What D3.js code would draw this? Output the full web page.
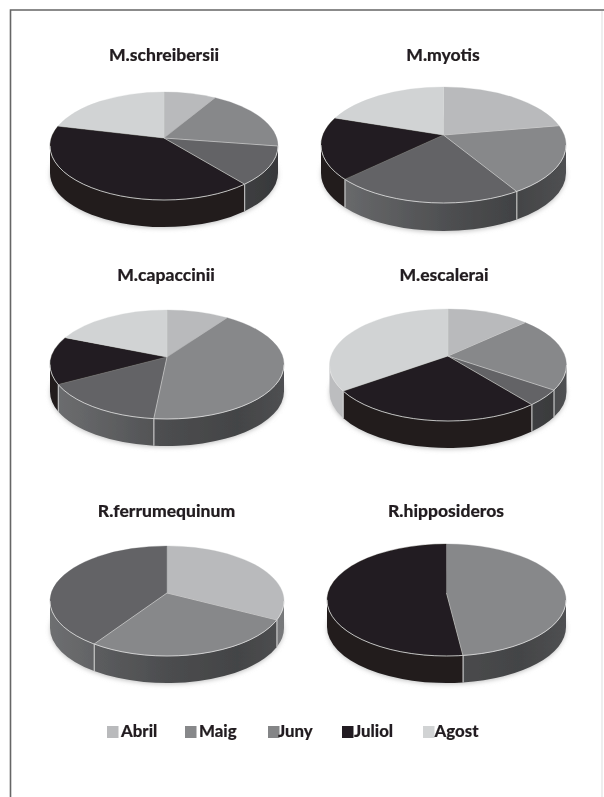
<!DOCTYPE html>
<html><head><meta charset="utf-8">
<script src="https://cdn.jsdelivr.net/npm/d3@7"></script>
<style>html,body{margin:0;padding:0;background:#fff}svg{display:block}text{font-family:Lato,"Noto Sans",sans-serif;font-weight:900;fill:#231f20;stroke:#231f20;stroke-width:0.15}</style>
</head><body><svg id="c" width="604" height="797"></svg>
<script>
// ---- data (percent of captures per month)
const months = ["Abril","Maig","Juny","Juliol","Agost"];
const species = ["M.schreibersii","M.myotis","M.capaccinii","M.escalerai","R.ferrumequinum","R.hipposideros"];
const schreibersii = [7.4,17.6,12.5,43.5,19.0];
const myotis = [19.6,20.2,25.1,17.8,17.3];
const capaccinii = [8.6,43.2,17.2,14.2,16.8];
const escalerai = [11.3,21.1,5.1,29.8,32.7];
const ferrumequinum = [30.6,30.1,39.3,0,0];
const hipposideros = [0,47.8,0,52.2,0];
const seriesList = [schreibersii,myotis,capaccinii,escalerai,ferrumequinum,hipposideros];

// ---- styles
const topColors = ["#b9babc","#87888a","#636466","#231f20","#d1d3d4"];
const legendColors = ["#b9babc","#87888a","#848587","#231f20","#d1d3d4"];
const sideStops = [
  [["0","#8a8b8d"],["1","#77787a"]],
  [["0","#666769"],["0.5","#4c4d4f"],["0.8","#434446"],["1","#4f5052"]],
  [["0","#6e6f71"],["0.5","#4f5052"],["1","#37383a"]],
  [["0","#211d1e"],["1","#211d1e"]],
  [["0","#bcbdbf"],["1","#bcbdbf"]]
];
// ---- layout: ellipse centre, radii, apex y, wall depth, title x/baseline
const layout = [
  {cx:164,cy:146,rx:114,ry:54,ay:138,d:27,tx:164,ty:61},
  {cx:443.5,cy:145,rx:122.5,ry:58,ay:135,d:28,tx:443,ty:61},
  {cx:167,cy:364.5,rx:117,ry:54.5,ay:357,d:27,tx:166,ty:281},
  {cx:448,cy:365,rx:118.5,ry:56,ay:356,d:27,tx:444,ty:281},
  {cx:167,cy:601,rx:117,ry:55,ay:593,d:27,tx:166.5,ty:517},
  {cx:446.5,cy:600,rx:119.5,ry:56,ay:593,d:27,tx:446,ty:517}
];
const legendSquareX = [107,185,268,342,423];
const legendTextX = [121,199,278,354,434.5];

const svg = d3.select("#c");
const defs = svg.append("defs");
defs.append("filter").attr("id","soft").attr("x","-5%").attr("y","-5%").attr("width","110%").attr("height","110%")
  .append("feGaussianBlur").attr("stdDeviation",0.5);
const shf = defs.append("filter").attr("id","shadow").attr("x","-10%").attr("y","-20%").attr("width","120%").attr("height","140%");
shf.append("feGaussianBlur").attr("stdDeviation",2);

const root = svg.append("g").attr("filter","url(#soft)");
// page frame
root.append("path").attr("d","M604,10H10.5V797").attr("fill","none").attr("stroke","#666").attr("stroke-width",1.6);
root.append("path").attr("d","M602,11V797").attr("fill","none").attr("stroke","#ddd").attr("stroke-width",1);

const pie = d3.pie().sort(null).value(d=>d);

seriesList.forEach((vals,pi)=>{
  const L = layout[pi];
  const g = root.append("g");
  const P = t=>[L.cx+L.rx*Math.sin(t), L.cy-L.ry*Math.cos(t)];
  const arcs = pie(vals);

  months.forEach((m,i)=>{
    const lg = defs.append("linearGradient").attr("id",`s${pi}_${i}`).attr("gradientUnits","userSpaceOnUse")
      .attr("x1",L.cx-L.rx).attr("x2",L.cx+L.rx).attr("y1",0).attr("y2",0);
    sideStops[i].forEach(s=>lg.append("stop").attr("offset",s[0]).attr("stop-color",s[1]));
  });

  // soft shadow below the disc
  g.append("ellipse").attr("cx",L.cx).attr("cy",L.cy+L.d+1.5).attr("rx",L.rx).attr("ry",L.ry)
    .attr("fill","#c8c8c8").attr("filter","url(#shadow)");

  // walls (front half only)
  arcs.forEach(a=>{
    if(a.value===0) return;
    const s=Math.max(a.startAngle,Math.PI/2), e=Math.min(a.endAngle,3*Math.PI/2);
    if(e<=s) return;
    const p0=P(s),p1=P(e);
    const d=`M${p0}A${L.rx},${L.ry} 0 ${e-s>Math.PI?1:0} 1 ${p1}L${p1[0]},${p1[1]+L.d}A${L.rx},${L.ry} 0 ${e-s>Math.PI?1:0} 0 ${p0[0]},${p0[1]+L.d}Z`;
    g.append("path").attr("d",d).attr("fill",`url(#s${pi}_${a.index})`);
    [[a.startAngle,p0],[a.endAngle,p1]].forEach(([t,q])=>{
      if(t>Math.PI/2+0.001 && t<3*Math.PI/2-0.001)
        g.append("line").attr("x1",q[0]).attr("x2",q[0]).attr("y1",q[1]).attr("y2",q[1]+L.d).attr("stroke","#d9d9d9").attr("stroke-width",0.8);
    });
  });

  // top face slices
  arcs.forEach(a=>{
    if(a.value===0) return;
    const p0=P(a.startAngle),p1=P(a.endAngle);
    const big=a.endAngle-a.startAngle>Math.PI?1:0;
    g.append("path").attr("d",`M${L.cx},${L.ay}L${p0}A${L.rx},${L.ry} 0 ${big} 1 ${p1}Z`)
      .attr("fill",topColors[a.index]).attr("stroke",topColors[a.index]).attr("stroke-width",0.3);
  });
  // light separators
  arcs.forEach(a=>{
    if(a.value===0) return;
    const q=P(a.startAngle);
    const lower=a.startAngle>0.6 && a.startAngle<4.0;
    g.append("line").attr("x1",L.cx).attr("y1",L.ay).attr("x2",q[0]).attr("y2",q[1])
      .attr("stroke",lower?"#d4d4d4":"#e4e4e4").attr("stroke-width",lower?0.8:0.5).attr("stroke-opacity",lower?0.9:0.5);
  });
  // bright rim along the front edge
  const a0=P(Math.PI/2),a1=P(3*Math.PI/2);
  g.append("path").attr("d",`M${a0}A${L.rx},${L.ry} 0 0 1 ${a1}`).attr("fill","none").attr("stroke","#e2e2e2").attr("stroke-width",0.8);

  root.append("text").attr("x",L.tx).attr("y",L.ty).attr("text-anchor","middle").attr("font-size",17.5).text(species[pi]);
});

// legend
months.forEach((m,i)=>{
  root.append("rect").attr("x",legendSquareX[i]).attr("y",726).attr("width",11.5).attr("height",12).attr("fill",legendColors[i]);
  root.append("text").attr("x",legendTextX[i]).attr("y",737).attr("font-size",16.8).text(m);
});
</script></body></html>
